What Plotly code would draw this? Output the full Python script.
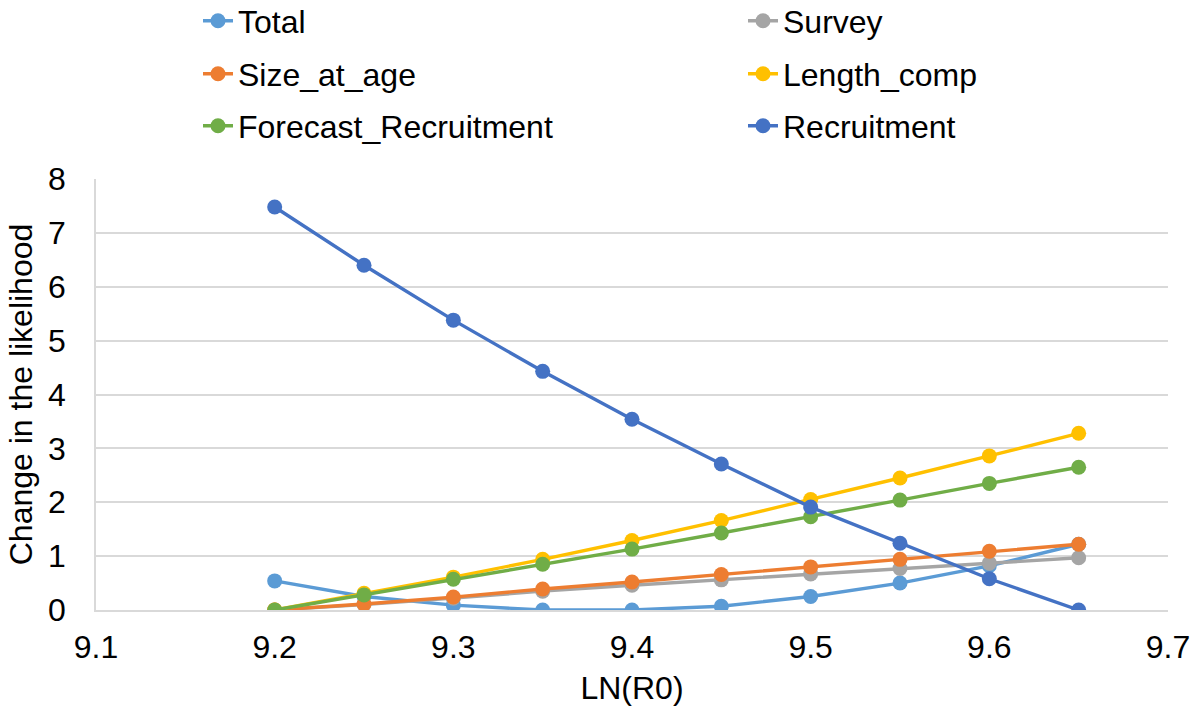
import plotly.graph_objects as go

ln_r0 = [9.2, 9.25, 9.3, 9.35, 9.4, 9.45, 9.5, 9.55, 9.6, 9.65]

total = [0.54, 0.25, 0.09, 0.0, 0.0, 0.07, 0.25, 0.50, 0.82, 1.22]
survey = [0.0, 0.10, 0.22, 0.35, 0.46, 0.56, 0.67, 0.77, 0.87, 0.97]
size_at_age = [0.0, 0.11, 0.24, 0.39, 0.52, 0.66, 0.80, 0.94, 1.09, 1.22]
length_comp = [0.0, 0.31, 0.61, 0.94, 1.29, 1.66, 2.05, 2.45, 2.86, 3.28]
forecast_recruitment = [0.0, 0.28, 0.57, 0.85, 1.13, 1.43, 1.73, 2.04, 2.35, 2.65]
recruitment = [7.48, 6.40, 5.38, 4.43, 3.54, 2.71, 1.91, 1.24, 0.58, 0.0]

series_names = ["Total", "Survey", "Size_at_age", "Length_comp",
                "Forecast_Recruitment", "Recruitment"]
series_values = [total, survey, size_at_age, length_comp,
                 forecast_recruitment, recruitment]
series_colors = ["#5B9BD5", "#A5A5A5", "#ED7D31", "#FFC000", "#70AD47", "#4472C4"]

W, H = 1199, 713
ML, MR, MT, MB = 96, 31, 179, 103
PW, PH = W - ML - MR, H - MT - MB
font_family = "Liberation Sans, Arial, sans-serif"

# legend grid (two columns, three rows), positions in figure pixels
leg_col_x = [198, 743]
leg_row_y = [21, 74, 126]

fig = go.Figure()
legend_layouts = {}
for i, (name, vals, color) in enumerate(zip(series_names, series_values, series_colors)):
    key = "legend" if i == 0 else f"legend{i + 1}"
    fig.add_trace(go.Scatter(
        x=ln_r0, y=vals, name=name, mode="lines+markers",
        line=dict(color=color, width=3.4),
        marker=dict(color=color, size=15),
        legend=key,
    ))
    row, col = divmod(i, 2)
    legend_layouts[key] = dict(
        xref="paper", yref="paper",
        x=(leg_col_x[col] - ML) / PW, xanchor="left",
        y=(H - MB - leg_row_y[row]) / PH, yanchor="middle",
        font=dict(size=32, family=font_family, color="black"),
        bgcolor="rgba(0,0,0,0)", borderwidth=0,
    )

fig.update_layout(
    width=W, height=H,
    template="none",
    paper_bgcolor="white", plot_bgcolor="white",
    margin=dict(l=ML, r=MR, t=MT, b=MB, pad=0, autoexpand=False),
    font=dict(family=font_family, size=32, color="black"),
    showlegend=True,
    xaxis=dict(
        range=[9.1, 9.7], dtick=0.1, tick0=9.1, tickformat=".1f",
        showgrid=False, zeroline=False, automargin=False,
        showline=True, linecolor="#D9D9D9", linewidth=1.5,
        ticks="", ticklabelstandoff=8,
        title=dict(text="LN(R0)", standoff=12, font=dict(size=32)),
    ),
    yaxis=dict(
        range=[0, 8], dtick=1, automargin=False,
        showgrid=True, gridcolor="#D9D9D9", gridwidth=1.5,
        zeroline=False,
        showline=True, linecolor="#D9D9D9", linewidth=1.5,
        ticks="", ticklabelstandoff=22,
        title=dict(text="Change in the likelihood", standoff=6, font=dict(size=32)),
    ),
    **legend_layouts,
)

fig.write_html(
    "out.html",
    config={"displayModeBar": False},
    post_script="document.body.style.margin = '0'; document.body.style.overflow = 'hidden';",
)
